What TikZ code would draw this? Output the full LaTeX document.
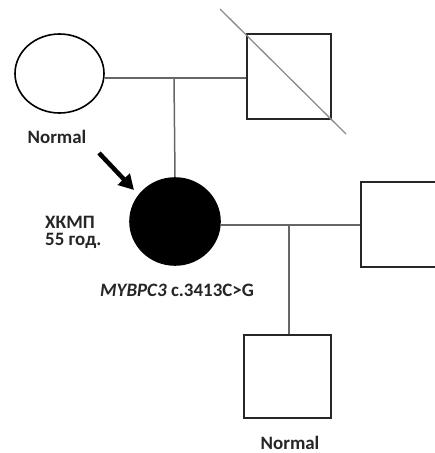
\documentclass[tikz,border=0pt]{standalone}
\usepackage{fontspec}
\setmainfont{Carlito}
\usetikzlibrary{shapes.geometric,arrows.meta}
\tikzset{
  female/.style={ellipse, draw=black, line width=1.6bp, inner sep=0pt},
  male/.style={rectangle, draw=black!85, line width=2bp, inner sep=0pt},
  link/.style={draw=black!60, line width=1.5bp},
  deceased/.style={draw=black!45, line width=1.3bp},
  lbl/.style={font=\bfseries\fontsize{19}{22}\selectfont, text=black!85, inner sep=0pt, align=center},
}
\begin{document}
\begin{tikzpicture}[x=1bp, y=-1bp]
  \clip (0,0) rectangle (435,453);
  \fill[white] (0,0) rectangle (435,453);

  % first generation
  \node[female, minimum width=89bp, minimum height=79bp] (mother) at (59.5,73.5) {};
  \node[male, minimum width=84bp, minimum height=85bp] (father) at (289,76.5) {};
  \draw[deceased] (220,9) -- (346,134);
  \coordinate (m1) at (174,78);
  \draw[link] (mother.east |- m1) -- (father.west |- m1);

  % proband
  \node[female, fill=black, minimum width=90bp, minimum height=87bp] (proband) at (175,221.5) {};
  \draw[link] (m1) -- (proband.north);
  \draw[black, line width=4.5bp, -{Triangle[length=15bp, width=16bp]}] (99,153) -- (134,190);

  % spouse and child
  \node[male, minimum width=85bp, minimum height=85bp, anchor=west] (spouse) at (360,224.5) {};
  \coordinate (m2) at (289,225);
  \draw[link] (proband.east |- m2) -- (spouse.west |- m2);
  \node[male, minimum width=87bp, minimum height=83bp] (child) at (287.5,376.5) {};
  \draw[link] (m2) -- (m2 |- child.north);

  % labels
  \node[lbl] (n1) at (57,137) {Normal};
  \node[lbl, anchor=west] (dx) at (45,222) {ХКМП};
  \node[lbl, anchor=west] (age) at (45,241) {55 год.};
  \node[lbl] (gene) at (177,290) {\textit{MYBPC3} c.3413C>G};
  \node[lbl] (n2) at (290,443) {Normal};
\end{tikzpicture}
\end{document}
